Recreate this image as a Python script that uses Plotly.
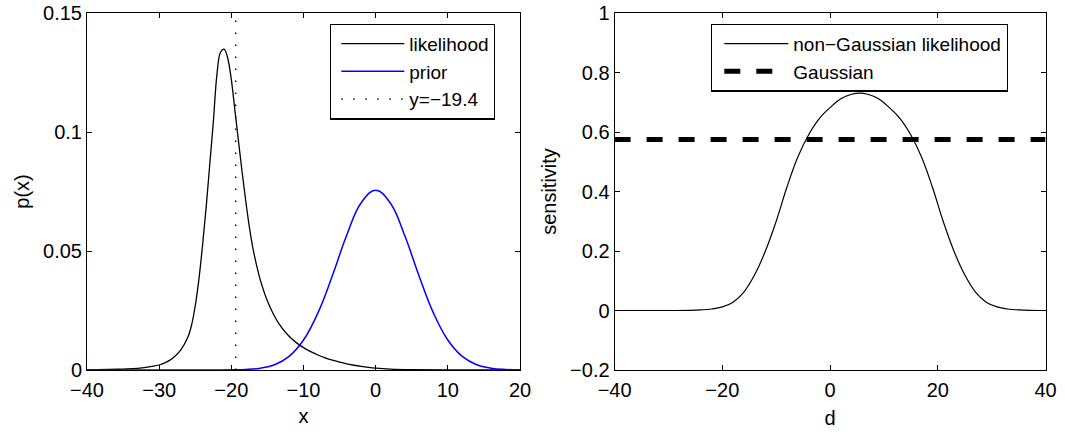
import plotly.graph_objects as go

# ---------------- data ----------------
# left panel: likelihood (black), prior (blue), dotted marker at x = -19.4
like_x = [-40, -37, -35, -33, -31, -30, -29, -28, -27, -26, -25.5, -25, -24.5, -24,
          -23.5, -23, -22.5, -22, -21.5, -21, -20.5, -20, -19.5, -19, -18.5, -18,
          -17.5, -17, -16.5, -16, -15, -14, -13, -12, -11, -10, -9, -8, -7,
          -6, -5, -4, -3, -2, -1, 0, 2, 5, 10, 20]
like_y = [0.0, 0.0002, 0.0004, 0.0007, 0.0015, 0.0021, 0.0033, 0.0053, 0.0085, 0.0140,
          0.0190, 0.0270, 0.0380, 0.0520, 0.0680, 0.0860, 0.1040, 0.1240, 0.1335, 0.1348,
          0.1310, 0.1220, 0.1090, 0.0960, 0.0830, 0.0710, 0.0600, 0.0510, 0.0440, 0.0380,
          0.0290, 0.0225, 0.0177, 0.0142, 0.0115, 0.0094, 0.0077, 0.0063, 0.0051,
          0.0041, 0.0033, 0.0026, 0.0020, 0.0015, 0.0011, 0.0008, 0.0004, 0.00015, 0.00003, 0.0]

prior_x = [-40, -30, -24, -22, -20, -18, -16, -14, -12, -10, -8, -6, -4, -2, 0,
           2, 4, 6, 8, 10, 12, 14, 16, 18, 20]
prior_y = [0.0, 0.0, 0.0, 0.00001, 0.00006, 0.00023, 0.00077, 0.0022, 0.0057, 0.0126,
           0.0240, 0.0396, 0.0567, 0.0703, 0.0755, 0.0703, 0.0567, 0.0396, 0.0240,
           0.0126, 0.0057, 0.0022, 0.00077, 0.00023, 0.00006]

marker_x = -19.4
left_x_ticks = [-40, -30, -20, -10, 0, 10, 20]
left_y_ticks = [0, 0.05, 0.1, 0.15]
left_y_labels = ["0", "0.05", "0.1", "0.15"]

# right panel: sensitivity vs d
sens_d = [-40, -30, -26, -24, -22, -20, -18, -16, -14, -12, -10, -8, -6, -4, -2, 0,
          2, 4, 5.5, 7, 9, 11, 13, 15, 17, 19, 21, 23, 25, 27, 29, 31, 33, 35, 37, 40]
sens_v = [0.0, 0.0, 0.0005, 0.002, 0.005, 0.012, 0.028, 0.062, 0.120, 0.200, 0.300,
          0.415, 0.515, 0.590, 0.645, 0.682, 0.712, 0.727, 0.731, 0.727, 0.712, 0.682,
          0.645, 0.590, 0.515, 0.415, 0.300, 0.200, 0.120, 0.062, 0.028, 0.012, 0.005,
          0.002, 0.0005, 0.0]
gauss_d = [-40, 40]
gauss_v = [0.575, 0.575]
right_x_ticks = [-40, -20, 0, 20, 40]
right_y_ticks = [-0.2, 0, 0.2, 0.4, 0.6, 0.8, 1.0]
right_y_labels = ["\u22120.2", "0", "0.2", "0.4", "0.6", "0.8", "1"]

# ---------------- figure ----------------
W, H = 1065, 432
FONT = "Liberation Sans, Arial, Helvetica, sans-serif"
FS = 20
LFS = 19

def px_x(p):
    return p / W

def px_y(p):
    return (H - p) / H

fig = go.Figure()

fig.add_trace(go.Scatter(x=like_x, y=like_y, mode="lines", name="likelihood",
                         line=dict(color="black", width=1.3, shape="spline", smoothing=1.0),
                         xaxis="x", yaxis="y", legend="legend"))
fig.add_trace(go.Scatter(x=prior_x, y=prior_y, mode="lines", name="prior",
                         line=dict(color="#0000ff", width=1.5, shape="spline", smoothing=1.2),
                         xaxis="x", yaxis="y", legend="legend"))
fig.add_trace(go.Scatter(x=[marker_x, marker_x], y=[left_y_ticks[0], left_y_ticks[-1]],
                         mode="lines", name="y=\u221219.4",
                         line=dict(color="black", width=1.4, dash="1.4px,10.6px"),
                         xaxis="x", yaxis="y", legend="legend"))

fig.add_trace(go.Scatter(x=sens_d, y=sens_v, mode="lines", name="non\u2212Gaussian likelihood",
                         line=dict(color="black", width=1.2, shape="spline", smoothing=1.1),
                         xaxis="x2", yaxis="y2", legend="legend2"))
fig.add_trace(go.Scatter(x=gauss_d, y=gauss_v, mode="lines", name="Gaussian",
                         line=dict(color="black", width=5, dash="16px,16px"),
                         xaxis="x2", yaxis="y2", legend="legend2"))

axis_common = dict(showline=True, linecolor="black", linewidth=1, mirror="ticks",
                   ticks="inside", ticklen=5, tickwidth=1, tickcolor="black",
                   showgrid=False, zeroline=False, automargin=False,
                   tickfont=dict(family=FONT, size=FS, color="black"))

ydom = [px_y(370), px_y(13)]

fig.update_layout(
    width=W, height=H,
    margin=dict(l=0, r=0, t=0, b=0),
    paper_bgcolor="white", plot_bgcolor="white",
    font=dict(family=FONT, size=FS, color="black"),
    showlegend=True,
    xaxis=dict(domain=[px_x(87), px_x(520)], range=[-40, 20], tickmode="array",
               tickvals=left_x_ticks, anchor="y", ticklabelstandoff=2,
               title=dict(text="x", font=dict(family=FONT, size=FS), standoff=8),
               **axis_common),
    yaxis=dict(domain=ydom, range=[0, 0.15], tickmode="array", tickvals=left_y_ticks,
               ticktext=left_y_labels, anchor="x",
               title=dict(text="p(x)", font=dict(family=FONT, size=FS), standoff=8),
               **axis_common),
    xaxis2=dict(domain=[px_x(614.6), px_x(1045.5)], range=[-40, 40], tickmode="array",
                tickvals=right_x_ticks, anchor="y2", ticklabelstandoff=2,
                title=dict(text="d", font=dict(family=FONT, size=FS), standoff=10),
                **axis_common),
    yaxis2=dict(domain=ydom, range=[-0.2, 1.0], tickmode="array", tickvals=right_y_ticks,
                ticktext=right_y_labels, anchor="x2",
                title=dict(text="sensitivity", font=dict(family=FONT, size=FS), standoff=8),
                **axis_common),
    legend=dict(x=px_x(330), y=px_y(23.5), xanchor="left", yanchor="top",
                bgcolor="white", bordercolor="black", borderwidth=1.3,
                font=dict(family=FONT, size=LFS, color="black"), itemwidth=63,
                indentation=5, tracegroupgap=0,
                entrywidth=100, entrywidthmode="pixels"),
    legend2=dict(x=px_x(711), y=px_y(23.5), xanchor="left", yanchor="top",
                 bgcolor="white", bordercolor="black", borderwidth=1.3,
                 font=dict(family=FONT, size=LFS, color="black"), itemwidth=64,
                 indentation=7, tracegroupgap=0,
                 entrywidth=230, entrywidthmode="pixels"),
)

fig.write_html("out.html", config={"displayModeBar": False},
               post_script="document.body.style.margin='0';document.body.style.overflow='hidden';")
